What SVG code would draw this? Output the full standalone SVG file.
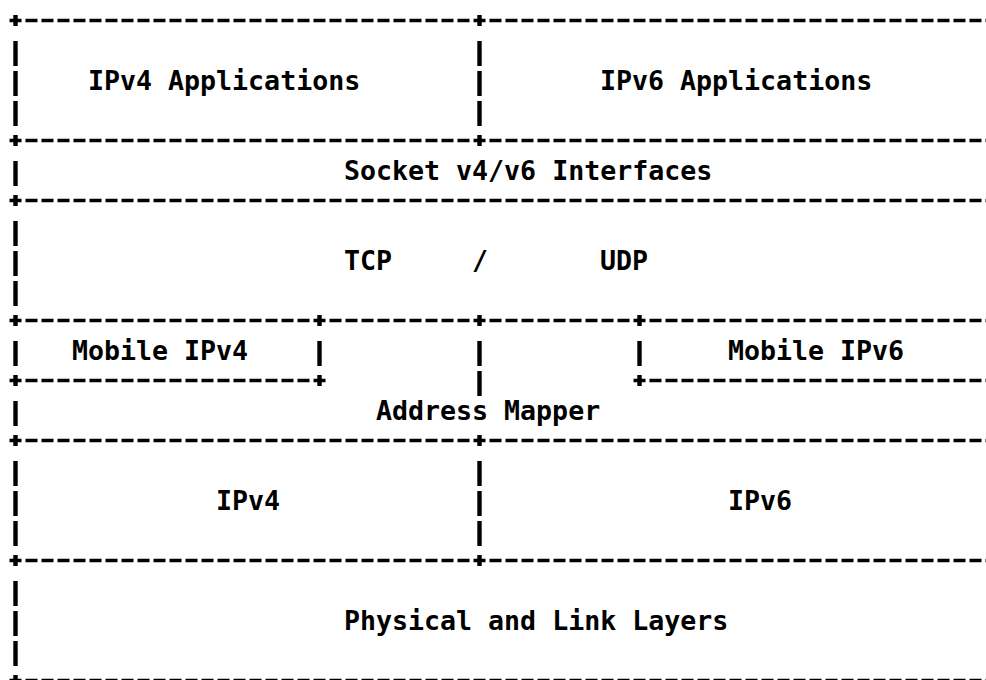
<svg xmlns="http://www.w3.org/2000/svg" width="986" height="680" viewBox="0 0 986 680">
<style>
  .bg { fill: #ffffff; }
  .h { stroke: #000; stroke-width: 3.4; stroke-dasharray: 12 4; fill: none; }
  .v { stroke: #000; stroke-width: 4.4; stroke-dasharray: 25 5; fill: none; }
  .p { fill: #000; }
  .t { font-family: "DejaVu Sans Mono", "Liberation Mono", monospace; font-weight: bold; font-size: 26.6px; fill: #000; }
</style>
<defs>
  <rect id="plus" class="p" x="-2.2" y="-5.5" width="4.4" height="11"/>
</defs>
<rect class="bg" x="0" y="0" width="986" height="680"/>
<g id="frame">
  <!-- horizontal rules -->
  <line class="h" x1="9.5" y1="20.5" x2="1000" y2="20.5"/>
  <line class="h" x1="9.5" y1="140.5" x2="1000" y2="140.5"/>
  <line class="h" x1="9.5" y1="200.5" x2="1000" y2="200.5"/>
  <line class="h" x1="9.5" y1="320.5" x2="1000" y2="320.5"/>
  <line class="h" x1="9.5" y1="380.5" x2="325.5" y2="380.5"/>
  <line class="h" x1="633.5" y1="380.5" x2="1000" y2="380.5"/>
  <line class="h" x1="9.5" y1="440.5" x2="1000" y2="440.5"/>
  <line class="h" x1="9.5" y1="560.5" x2="1000" y2="560.5"/>
  <line class="h" x1="9.5" y1="680.5" x2="1000" y2="680.5"/>
  <!-- vertical bars -->
  <line class="v" x1="15.5" y1="41" x2="15.5" y2="126"/>
  <line class="v" x1="15.5" y1="161" x2="15.5" y2="186"/>
  <line class="v" x1="15.5" y1="221" x2="15.5" y2="306"/>
  <line class="v" x1="15.5" y1="341" x2="15.5" y2="366"/>
  <line class="v" x1="15.5" y1="401" x2="15.5" y2="426"/>
  <line class="v" x1="15.5" y1="461" x2="15.5" y2="546"/>
  <line class="v" x1="15.5" y1="581" x2="15.5" y2="666"/>
  <line class="v" x1="479.5" y1="41" x2="479.5" y2="126"/>
  <line class="v" x1="479.5" y1="341" x2="479.5" y2="396"/>
  <line class="v" x1="479.5" y1="461" x2="479.5" y2="546"/>
  <line class="v" x1="319.5" y1="341" x2="319.5" y2="366"/>
  <line class="v" x1="639.5" y1="341" x2="639.5" y2="366"/>
  <!-- plus junctions -->
  <use href="#plus" x="15.5" y="20.5"/>
  <use href="#plus" x="479.5" y="20.5"/>
  <use href="#plus" x="15.5" y="140.5"/>
  <use href="#plus" x="479.5" y="140.5"/>
  <use href="#plus" x="15.5" y="200.5"/>
  <use href="#plus" x="15.5" y="320.5"/>
  <use href="#plus" x="319.5" y="320.5"/>
  <use href="#plus" x="479.5" y="320.5"/>
  <use href="#plus" x="639.5" y="320.5"/>
  <use href="#plus" x="15.5" y="380.5"/>
  <use href="#plus" x="319.5" y="380.5"/>
  <use href="#plus" x="639.5" y="380.5"/>
  <use href="#plus" x="15.5" y="440.5"/>
  <use href="#plus" x="479.5" y="440.5"/>
  <use href="#plus" x="15.5" y="560.5"/>
  <use href="#plus" x="479.5" y="560.5"/>
  <use href="#plus" x="15.5" y="680.5"/>
</g>
<g id="ipv4-apps"><text class="t" x="88" y="90">IPv4 Applications</text></g>
<g id="ipv6-apps"><text class="t" x="600" y="90">IPv6 Applications</text></g>
<g id="socket"><text class="t" x="344" y="180">Socket v4/v6 Interfaces</text></g>
<g id="tcp-udp">
  <text class="t" x="344" y="270">TCP</text>
  <text class="t" x="472" y="270">/</text>
  <text class="t" x="600" y="270">UDP</text>
</g>
<g id="mobile-ipv4"><text class="t" x="72" y="360">Mobile IPv4</text></g>
<g id="mobile-ipv6"><text class="t" x="728" y="360">Mobile IPv6</text></g>
<g id="address-mapper"><text class="t" x="376" y="420">Address Mapper</text></g>
<g id="ipv4"><text class="t" x="216" y="510">IPv4</text></g>
<g id="ipv6"><text class="t" x="728" y="510">IPv6</text></g>
<g id="phy-link"><text class="t" x="344" y="630">Physical and Link Layers</text></g>
</svg>
